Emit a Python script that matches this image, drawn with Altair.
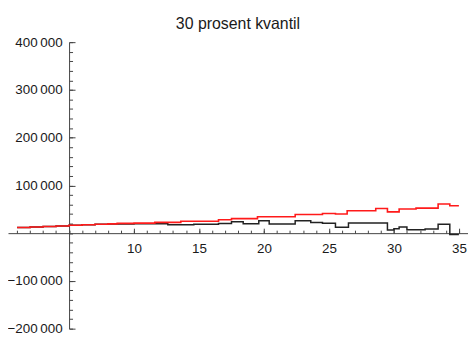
import altair as alt
import pandas as pd

chart_title = "30 prosent kvantil"

# red series (step breakpoints)
red_x = [1, 2, 3, 4, 5, 6, 7, 8, 8.7, 10, 11.6, 13.6, 16.5, 17.5, 19.5, 22.4,
         24.5, 25.5, 26.4, 28.6, 29.5, 30.4, 31.7, 33.4, 34.3, 35]
red_y = [12000, 13000, 14000, 15000, 16500, 17500, 18500, 19500, 20500, 21000,
         22500, 25000, 28000, 30500, 34500, 39000, 41000, 40000, 47000, 51500,
         44500, 50500, 52500, 61000, 57500, 57500]

# black series
black_x = [1, 2, 3, 4, 5, 6, 7, 8, 10, 12.6, 14.6, 16.5, 17.5, 18.4, 19.6, 20.4,
           22.4, 23.6, 24.5, 25.5, 26.5, 29.5, 30, 30.4, 31, 32.4, 33.4, 34.3, 35]
black_y = [12000, 13000, 14000, 15000, 16500, 17500, 18500, 19000, 19500, 17500,
           18700, 20000, 24000, 19500, 26000, 19000, 26000, 22500, 20500, 12500,
           21500, 6500, 9000, 13000, 7000, 8500, 18500, -3000, -3000]

# axis ticks / labels
x_labels = [10, 15, 20, 25, 30, 35]
x_minor = list(range(1, 36))
y_labels = [-200000, -100000, 100000, 200000, 300000, 400000]
y_minor = list(range(-200000, 400001, 20000))

x_domain = [0.3, 35.7]
y_domain = [-200000, 400000]

W, H = 464, 289
x_origin = 5
x0_px = W * (x_origin - x_domain[0]) / (x_domain[1] - x_domain[0])
y0_px = H * (y_domain[1] - 0) / (y_domain[1] - y_domain[0])

red_df = pd.DataFrame({"x": red_x, "v": red_y})
black_df = pd.DataFrame({"x": black_x, "v": black_y})

xs = alt.Scale(domain=x_domain, nice=False, zero=False)
ys = alt.Scale(domain=y_domain, nice=False, zero=False)

AX = "#444444"
LAB = "#1a1a1a"
FONT = "Liberation Sans"

x_label_axis = alt.Axis(orient="bottom", offset=-(H - y0_px), values=x_labels,
                        ticks=False, domain=True, domainColor=AX, domainWidth=1,
                        labelPadding=9, labelFontSize=13.5, labelFont=FONT,
                        labelColor=LAB, labelFlush=False, labelOverlap=False,
                        grid=False, title=None)
y_label_axis = alt.Axis(orient="left", offset=-x0_px, values=y_labels,
                        ticks=False, domain=True, domainColor=AX, domainWidth=1,
                        labelPadding=7, labelFontSize=13.5, labelFont=FONT,
                        labelColor=LAB, labelFlush=False, labelOverlap=False,
                        labelExpr="replace(format(datum.value, ','), ',', '\u2009')",
                        grid=False, title=None)

black = alt.Chart(black_df).mark_line(
    interpolate="step-after", color="#222222", strokeWidth=1.5
).encode(
    x=alt.X("x:Q", scale=xs, axis=x_label_axis),
    y=alt.Y("v:Q", scale=ys, axis=y_label_axis),
)

red = alt.Chart(red_df).mark_line(
    interpolate="step-after", color="#ff1a1a", strokeWidth=1.6
).encode(
    x=alt.X("x:Q", scale=xs, axis=None),
    y=alt.Y("v:Q", scale=ys, axis=None),
)


def tick_layer(xvals, yvals, xsize, ysize):
    return alt.Chart(black_df).mark_point(opacity=0).encode(
        x=alt.X("x:Q", scale=xs, axis=alt.Axis(
            orient="top", offset=-y0_px, values=xvals, ticks=True,
            tickSize=xsize, tickColor=AX, tickWidth=1, labels=False,
            domain=False, grid=False, title=None)),
        y=alt.Y("v:Q", scale=ys, axis=alt.Axis(
            orient="right", offset=-(W - x0_px), values=yvals, ticks=True,
            tickSize=ysize, tickColor=AX, tickWidth=1, labels=False,
            domain=False, grid=False, title=None)),
    )


major = tick_layer(x_labels, y_labels, 5, 6)
minor = tick_layer(x_minor, y_minor, 3, 3.5)

chart = alt.layer(black, red, major, minor).resolve_axis(
    x="independent", y="independent"
).properties(
    width=W,
    height=H,
    autosize="none",
    padding={"left": 0, "top": 33, "right": 0, "bottom": 10},
    title=alt.TitleParams(chart_title, fontSize=16, font=FONT,
                          fontWeight="normal", color=LAB, anchor="middle",
                          frame="group", baseline="alphabetic", offset=-10),
).configure_view(stroke=None)

chart.save("out.html", embed_options={"renderer": "svg", "actions": False})
